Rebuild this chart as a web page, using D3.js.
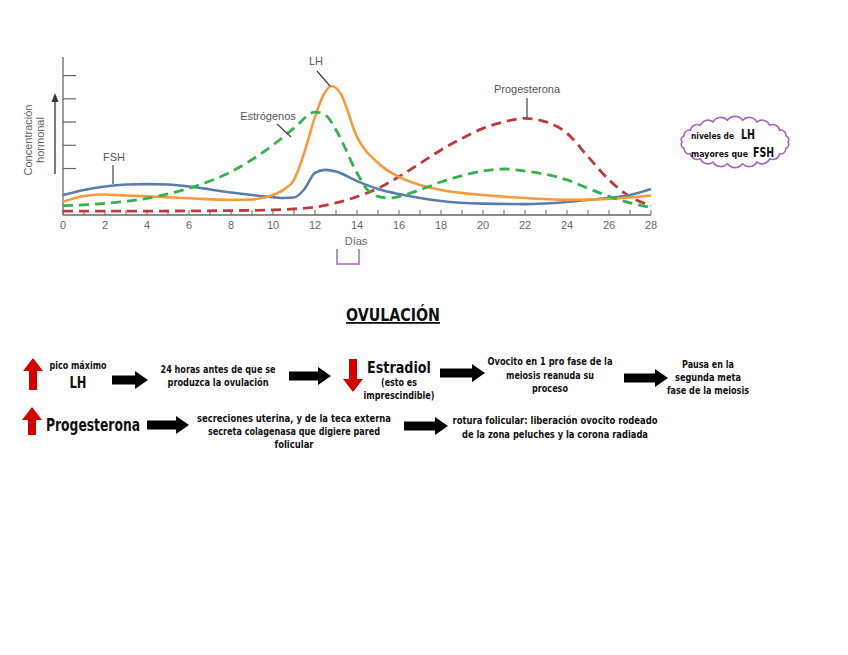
<!DOCTYPE html>
<html><head><meta charset="utf-8">
<script src="https://cdn.jsdelivr.net/npm/d3@7"></script>
<style>body{margin:0;background:#fff}svg{display:block}</style>
</head><body>
<svg id="c" width="848" height="655"></svg>
<script>
const days = [0,1,2,3,4,5,6,7,8,9,10,10.5,11,11.5,12,12.5,13,14,15,16,17,18,20,22,24,25,26,27,28];
const fsh  = [0.86,1.08,1.23,1.31,1.33,1.31,1.23,1.10,0.97,0.86,0.77,0.73,0.75,1.12,1.81,1.94,1.87,1.46,1.12,0.90,0.73,0.60,0.49,0.47,0.56,0.65,0.73,0.86,1.12];
const lhDays = [0,1,2,3,4,6,8,9,10,10.5,11,11.5,12,12.4,12.8,13.2,14,15,16,17,18,20,22,24,26,28];
const lh     = [0.57,0.82,0.88,0.84,0.80,0.72,0.65,0.67,0.86,1.08,1.51,2.71,4.22,5.16,5.55,5.25,3.36,2.24,1.64,1.29,1.08,0.86,0.73,0.65,0.69,0.84];
const estDays = [0,2,4,6,8,10,11,12,12.5,13,14,14.5,15,15.5,16,17,18,20,21,22,24,25,26,27,28];
const estrogen= [0.40,0.50,0.72,1.15,1.86,3.01,3.74,4.43,4.30,3.66,1.81,1.08,0.80,0.73,0.80,1.08,1.42,1.89,1.98,1.89,1.51,1.15,0.80,0.52,0.32];
const progDays = [0,4,8,10,11,12,13,14,15,16,17,18,19,20,21,22,23,24,25,26,27,28];
const progesterone = [0.17,0.17,0.19,0.22,0.26,0.34,0.52,0.79,1.15,1.65,2.22,2.80,3.30,3.73,4.01,4.16,4.01,3.52,2.51,1.51,0.79,0.40];
const xTickLabels = [0,2,4,6,8,10,12,14,16,18,20,22,24,26,28];
const yTicks = [2,3,4,5,6];
const seriesLabels = ["FSH","Estrógenos","LH","Progesterona"];

const svg = d3.select("#c");
const x = d3.scaleLinear().domain([0,28]).range([63,651]);
const y = d3.scaleLinear().domain([0,6.8]).range([215,57]);
const gray = "#666";
const hand = "'DejaVu Sans','Liberation Sans',sans-serif";

// axes
svg.append("line").attr("x1",x(0)).attr("x2",x(0)).attr("y1",y(6.8)).attr("y2",y(0)).attr("stroke",gray).attr("stroke-width",1.3);
svg.append("line").attr("x1",x(0)).attr("x2",x(28)).attr("y1",y(0)).attr("y2",y(0)).attr("stroke",gray).attr("stroke-width",1.3);
yTicks.forEach(t=>svg.append("line").attr("x1",x(0)).attr("x2",x(0)+13).attr("y1",y(t)).attr("y2",y(t)).attr("stroke",gray).attr("stroke-width",1.2));
d3.range(0,29).forEach(d=>svg.append("line").attr("x1",x(d)).attr("x2",x(d)).attr("y1",y(0)).attr("y2",y(0)-5).attr("stroke",gray).attr("stroke-width",1));
xTickLabels.forEach(d=>svg.append("text").attr("x",x(d)).attr("y",229).attr("text-anchor","middle")
  .attr("font-family","Liberation Sans,Arial,sans-serif").attr("font-size",11).attr("fill",gray).text(d));
svg.append("text").attr("x",356).attr("y",245).attr("text-anchor","middle").attr("font-family","Liberation Sans,Arial,sans-serif").attr("font-size",11).attr("fill",gray).text("Días");
// y label
const yl = svg.append("text").attr("transform","translate(35,140) rotate(-90)").attr("text-anchor","middle")
  .attr("font-family","Liberation Sans,Arial,sans-serif").attr("font-size",11).attr("fill",gray);
yl.append("tspan").attr("x",0).attr("dy",-3).text("Concentración");
yl.append("tspan").attr("x",0).attr("dy",12).text("hormonal");
// y arrow
svg.append("line").attr("x1",55).attr("x2",55).attr("y1",174).attr("y2",100).attr("stroke","#333").attr("stroke-width",1.3);
svg.append("path").attr("d","M55,93 L51.5,102 L58.5,102 Z").attr("fill","#333");

// curves
const line = d3.line().curve(d3.curveMonotoneX);
function draw(xs, ys, color, dash, w){
  svg.append("path").attr("d", line(xs.map((d,i)=>[x(d), y(ys[i])])))
    .attr("fill","none").attr("stroke",color).attr("stroke-width",w)
    .attr("stroke-dasharray",dash||null).attr("stroke-linecap","butt");
}
draw(progDays, progesterone, "#c2393c", "10,6", 2.8);
draw(days, fsh, "#5a7eab", null, 2.6);
draw(lhDays, lh, "#f8993b", null, 2.6);
draw(estDays, estrogen, "#33b34c", "10,6", 2.8);

// series labels with leaders
function lbl(t, lx, ly, x1,y1,x2,y2){
  svg.append("text").attr("x",lx).attr("y",ly).attr("text-anchor","middle").attr("font-family","Liberation Sans,Arial,sans-serif").attr("font-size",11).attr("fill","#555").text(t);
  svg.append("line").attr("x1",x1).attr("y1",y1).attr("x2",x2).attr("y2",y2).attr("stroke","#444").attr("stroke-width",1.2);
}
lbl(seriesLabels[0],114,161,113,165,113,184);
lbl(seriesLabels[1],268,120,277,124,291,137);
lbl(seriesLabels[2],316,65,317,71,330,86);
lbl(seriesLabels[3],527,93,527,98,527,118);

// purple bracket
svg.append("path").attr("d","M337,249 L337,264 L359,264 L359,249").attr("fill","none").attr("stroke","#a766c4").attr("stroke-width",1.5);

// text helper with fixed widths
function tw(s, x0, y0, size, w, anchor){
  return svg.append("text").attr("x",x0).attr("y",y0).attr("text-anchor",anchor||"middle").attr("font-family",hand)
    .attr("font-weight","bold").attr("fill","#111").attr("font-size",size)
    .attr("textLength",w).attr("lengthAdjust","spacingAndGlyphs").text(s);
}

// cloud
(function(){
  const cx=735, cy=142, rx=53, ry=22, N=22;
  const pts = d3.range(N).map(i=>{const a=i/N*2*Math.PI; return [cx+rx*Math.cos(a), cy+ry*Math.sin(a)];});
  let d = `M${pts[0][0]},${pts[0][1]}`;
  for(let i=1;i<=N;i++){const p=pts[i%N], q=pts[i-1]; const r=Math.hypot(p[0]-q[0],p[1]-q[1])*0.62; d+=` A${r},${r} 0 0 1 ${p[0]},${p[1]}`;}
  svg.append("path").attr("d",d+"Z").attr("fill","#fff").attr("stroke","#a766c4").attr("stroke-width",1.6);
  tw("niveles de",691,139,9,43,"start");
  tw("LH",741,139,14,14,"start");
  tw("mayores que",691,157,9,57,"start");
  tw("FSH",753,157,14,21,"start");
})();

// Title
tw("OVULACIÓN",393,321,18,94).attr("text-decoration","underline");

// arrows
function rightArrow(x0,x1,yc){
  const hl=13, sh=4.5, hh=9;
  svg.append("path").attr("d",`M${x0},${yc-sh} L${x1-hl},${yc-sh} L${x1-hl},${yc-hh} L${x1},${yc} L${x1-hl},${yc+hh} L${x1-hl},${yc+sh} L${x0},${yc+sh} Z`).attr("fill","#000");
}
function upArrow(xc,y0,y1){
  const hl=13, sw=4, hw=10;
  svg.append("path").attr("d",`M${xc},${y0} L${xc+hw},${y0+hl} L${xc+sw},${y0+hl} L${xc+sw},${y1} L${xc-sw},${y1} L${xc-sw},${y0+hl} L${xc-hw},${y0+hl} Z`).attr("fill","#d40000");
}
function downArrow(xc,y0,y1){
  const hl=13, sw=4, hw=10;
  svg.append("path").attr("d",`M${xc},${y1} L${xc+hw},${y1-hl} L${xc+sw},${y1-hl} L${xc+sw},${y0} L${xc-sw},${y0} L${xc-sw},${y1-hl} L${xc-hw},${y1-hl} Z`).attr("fill","#d40000");
}

upArrow(33,358,390);
tw("pico máximo",78,369,10,57);
tw("LH",78,388,15,17);
rightArrow(112,148,380);
tw("24 horas antes de que se",218,373,10,115);
tw("produzca la ovulación",218,386,10,101);
rightArrow(289,331,376);
downArrow(353,359,392);
tw("Estradiol",399,373,16,64);
tw("(esto es",399,386,10,36);
tw("imprescindible)",399,399,10,71);
rightArrow(440,485,373);
tw("Ovocito en 1 pro fase de la",550,365,10,125);
tw("meiosis reanuda su",550,378.5,10,88);
tw("proceso",550,392,10,36);
rightArrow(624,668,378);
tw("Pausa en la",708,368,10,52);
tw("segunda meta",708,381,10,66);
tw("fase de la meiosis",708,394,10,82);

upArrow(32,407,435);
tw("Progesterona",46,431,17,94,"start");
rightArrow(147,189,425);
tw("secreciones uterina, y de la teca externa",294,422,10,194);
tw("secreta colagenasa que digiere pared",294,435,10,172);
tw("folicular",294,448,10,39);
rightArrow(404,448,426);
tw("rotura folicular: liberación ovocito rodeado",555,424,10,205);
tw("de la zona peluches y la corona radiada",555,437.5,10,186);
</script>
</body></html>
